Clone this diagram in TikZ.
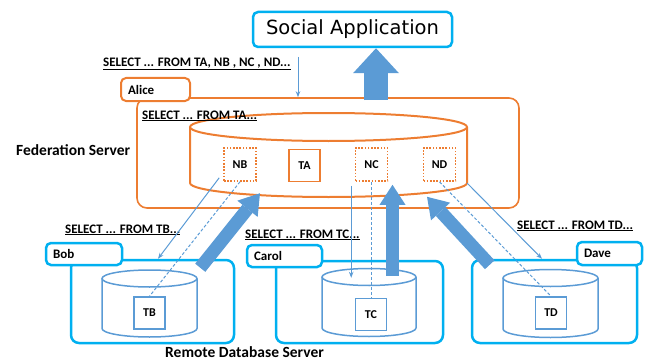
\documentclass[tikz,border=0pt]{standalone}
\usepackage{fontspec}
\setmainfont{Carlito}
\newfontfamily\appfont{DejaVu Sans}
\usetikzlibrary{arrows.meta,calc}

\definecolor{cyanline}{HTML}{00B0F0}
\definecolor{arrowblue}{HTML}{5B9BD5}
\definecolor{fedorange}{HTML}{ED7D31}

% database can: style, name, centre x, top y, bottom y, x radius, y radius
\newcommand{\dbcan}[7]{%
  \draw[#1] (#3-#6,#4) -- (#3-#6,#5)
     arc[start angle=180,end angle=0,x radius=#6,y radius=#7] -- (#3+#6,#4);
  \draw[#1] (#3,#4) ellipse[x radius=#6,y radius=#7];
  \node[inner sep=0pt,minimum width={2*#6*1pt},minimum height={(#5-#4+2*#7)*1pt}]
     (#2) at (#3,{(#4+#5)/2}) {};
}

\tikzset{
  appbox/.style={draw=cyanline,line width=2.5pt,rounded corners=5pt,inner sep=0pt,
    font=\appfont\fontsize{19.5}{22}\selectfont},
  fedbox/.style={draw=fedorange,line width=1.6pt,rounded corners=10pt,inner sep=0pt},
  srvbox/.style={draw=cyanline,line width=2.5pt,rounded corners=8pt,inner sep=0pt},
  tagbox/.style={draw=cyanline,line width=2.5pt,rounded corners=5pt,fill=white,
    align=left,inner xsep=7pt,inner ysep=0pt,minimum height=22pt},
  tagorange/.style={tagbox,draw=fedorange,line width=2pt},
  fedcan/.style={draw=fedorange,line width=2pt},
  remotecan/.style={draw=arrowblue,line width=1.5pt},
  tablebox/.style={draw=arrowblue,line width=1.5pt,minimum width=31pt,minimum height=32pt,
    inner sep=0pt,font=\bfseries\fontsize{12}{14}\selectfont},
  ghostbox/.style={draw=fedorange,line width=1.6pt,dash pattern=on 1.6pt off 1.6pt,
    minimum width=32pt,minimum height=33pt,inner sep=0pt,
    font=\bfseries\fontsize{12}{14}\selectfont},
  query/.style={anchor=base west,inner sep=0pt,font=\bfseries\fontsize{13}{15}\selectfont},
  heading/.style={anchor=base west,inner sep=0pt,font=\bfseries\fontsize{15.5}{18}\selectfont},
  thinarrow/.style={draw=arrowblue,line width=1pt,-{Stealth[length=6pt,width=4.5pt]}},
  dashline/.style={draw=arrowblue,line width=1pt,dash pattern=on 3pt off 2pt},
  bigarrow/.style n args={3}{draw=arrowblue,line width=#1,
    -{Triangle[width=#2,length=#3,line width=0pt]}},
  sidearrow/.style={bigarrow={13pt}{26pt}{20pt}},
}

\begin{document}
\begin{tikzpicture}[x=1pt,y=-1pt,font=\bfseries\fontsize{13}{15}\selectfont]
\useasboundingbox (0,0) rectangle (648,361);

% client application
\node[appbox,minimum width=199pt,minimum height=35pt] (app) at (352.5,29.5) {Social Application};

% federation server
\node[fedbox,minimum width=382pt,minimum height=110pt] (fed) at (328,153) {};
\node[tagorange,text width=55pt,minimum height=23pt] (alice) at (155.5,89.5) {Alice};
\dbcan{fedcan}{fedcyl}{328.5}{127}{183}{138.5}{14}
\node[ghostbox] (NB) at (240,164.5) {NB};
\node[tablebox,draw=fedorange] (TA) at (304.5,165.5) {TA};
\node[ghostbox] (NC) at (371.5,164.5) {NC};
\node[ghostbox] (ND) at (439.5,164.5) {ND};

% remote database servers
\node[srvbox,minimum width=163pt,minimum height=83pt] (bobsrv) at (152.5,301.5) {};
\node[tagbox,text width=62pt] (bob) at (84,254) {Bob};
\dbcan{remotecan}{bobcyl}{149.5}{278.5}{328.5}{47.5}{8.5}
\node[tablebox] (TB) at (149.5,313) {TB};

\node[srvbox,minimum width=167pt,minimum height=82pt] (carolsrv) at (359.5,302) {};
\node[tagbox,text width=61pt] (carol) at (284.5,256) {Carol};
\dbcan{remotecan}{carolcyl}{369}{277}{328}{47}{8.5}
\node[tablebox] (TC) at (371,314.5) {TC};

\node[srvbox,minimum width=165pt,minimum height=83pt] (davesrv) at (554.5,301.5) {};
\node[tagbox,text width=51pt,minimum height=23pt] (dave) at (609.5,253.5) {Dave};
\dbcan{remotecan}{davecyl}{550.5}{278}{329}{47.5}{8.5}
\node[tablebox] (TD) at (551,313) {TD};

% queries
\node[query] (qall) at (103,66.5) {\underline{SELECT ... FROM TA, NB , NC , ND...}};
\node[query] (qa) at (142,119) {\underline{SELECT ... FROM TA...}};
\node[query] (qb) at (65,233) {\underline{SELECT ... FROM TB...}};
\node[query] (qc) at (245,238) {\underline{SELECT ... FROM TC...}};
\node[query] (qd) at (517,229) {\underline{SELECT ... FROM TD...}};

\node[heading] (fedtitle) at (16,155) {Federation Server};
\node[heading] (remotetitle) at (165,357.5) {Remote Database Server};

% query into the federation server
\coordinate (qsrc) at (298,57);
\draw[thinarrow] (qsrc) -- (qsrc |- fed.north);

% sub-queries and nicknames
\draw[thinarrow] ($(NB.south west)+(-4,-4)$) -- ($(bobsrv.north)+(5.5,0)$);
\draw[dashline] (NB.south) -- (TB.north);
\draw[thinarrow] ($(NC.south west)+(-3.5,4)$) -- ($(NC.south west |- carolcyl.north)+(-3.5,9.5)$);
\draw[dashline] (NC.south) -- (NC.south |- TC.north);
\draw[thinarrow] ($(fedcyl.south east)+(0,-14)$) -- ($(davesrv.north)+(-12.5,0)$);
\draw[dashline] (ND.south) -- (TD.north);

% result flows
\draw[bigarrow={24pt}{46pt}{25pt}] ($(fed.north)+(48,3)$) -- ($(app.south)+(23.5,0)$);
\draw[sidearrow] ($(bobsrv.north east)+(-35,9)$) -- ($(fedcyl.south)+(-68.5,-4)$);
\draw[sidearrow] ($(carolsrv.north)+(33,16)$) -- ($(NC.south)+(21,3)$);
\draw[sidearrow] ($(davesrv.north west)+(19,6)$) -- ($(ND.south)+(-12.5,15)$);
\end{tikzpicture}
\end{document}
